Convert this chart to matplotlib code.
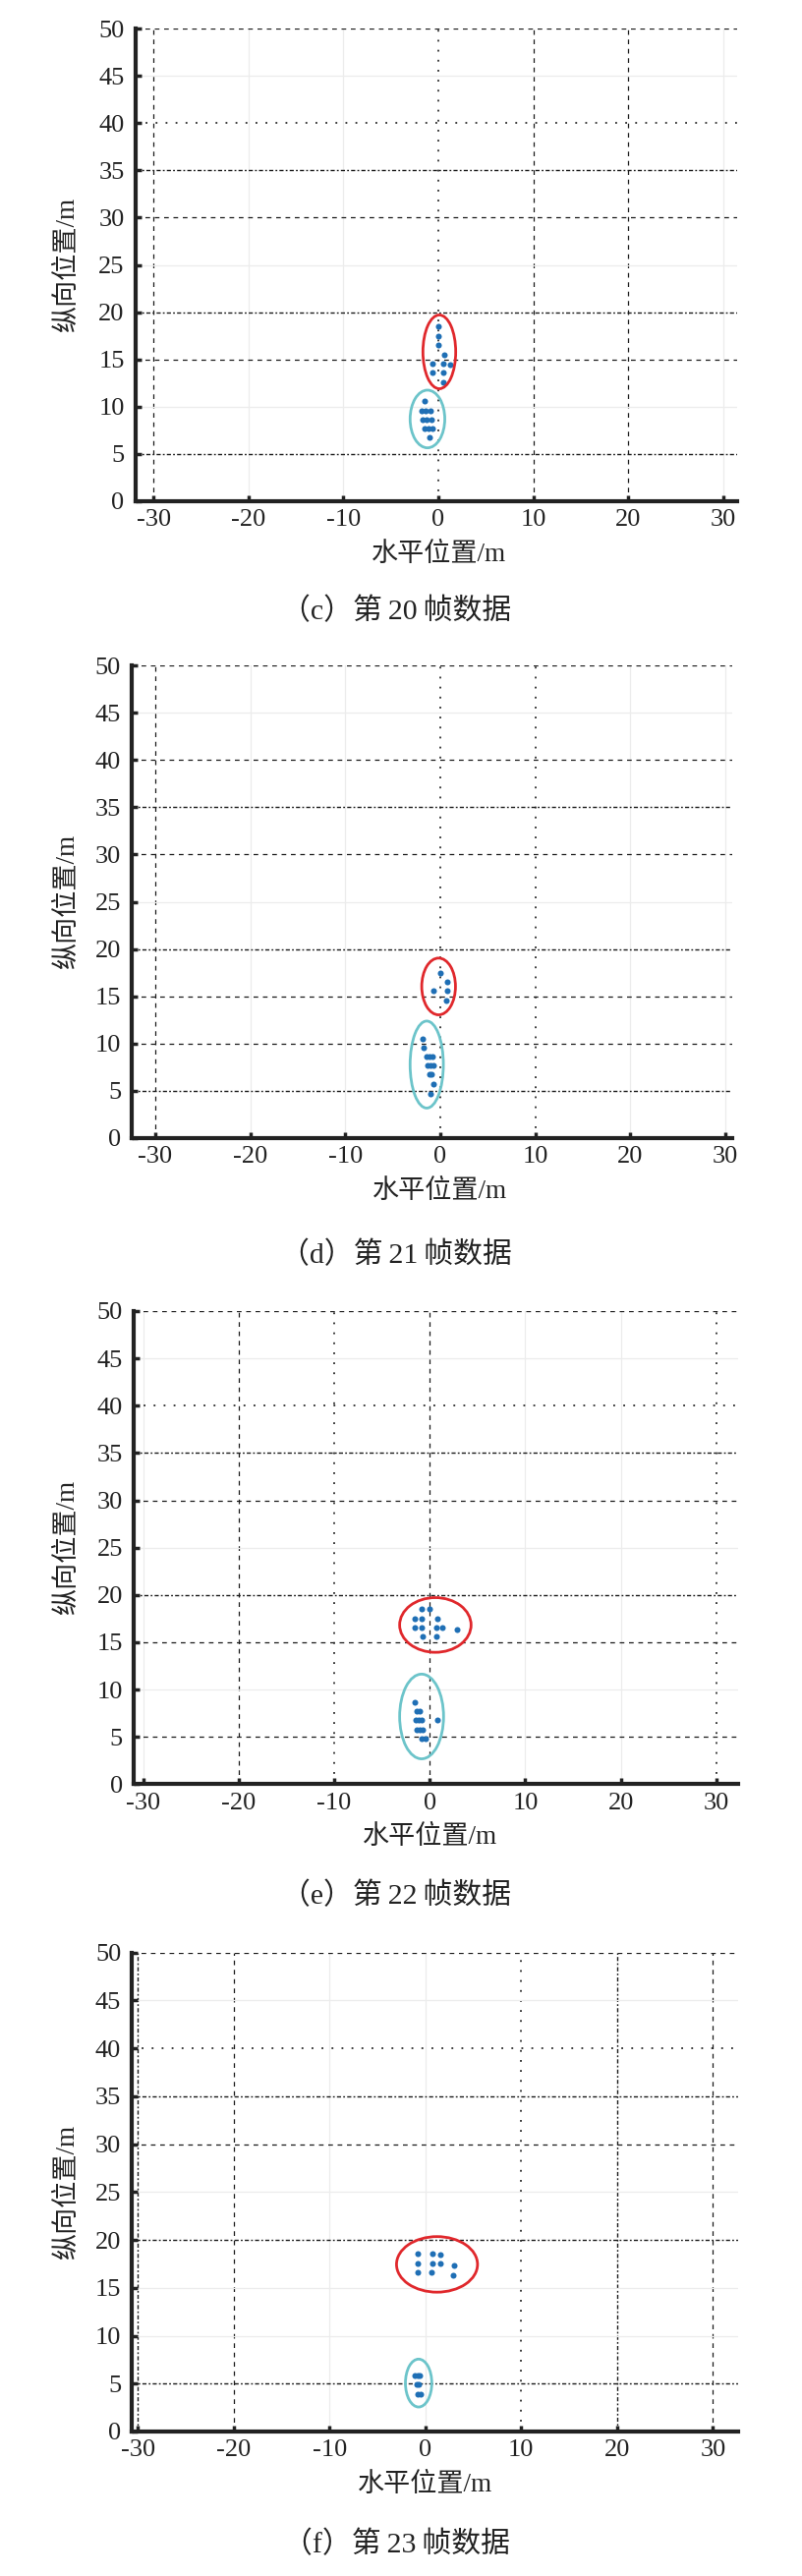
import matplotlib
matplotlib.use("Agg")
import matplotlib.pyplot as plt
from matplotlib.patches import Ellipse

plt.rcParams['font.family'] = ['Liberation Serif', 'Noto Sans CJK SC', 'DejaVu Sans']
plt.rcParams['axes.unicode_minus'] = False

# ---------------- data ----------------
captions = ["（c）第\u200920\u2009帧数据", "（d）第\u200921\u2009帧数据",
            "（e）第\u200922\u2009帧数据", "（f）第\u200923\u2009帧数据"]
xlabel = "水平位置/m"
ylabel = "纵向位置/m"
xticks = [-30, -20, -10, 0, 10, 20, 30]
yticks = [0, 5, 10, 15, 20, 25, 30, 35, 40, 45, 50]

# frame 20
c_red_x = [0.0, 0.0, 0.0, 0.65, -0.65, 0.55, 1.2, -0.64, 0.55, 0.52]
c_red_y = [18.5, 17.5, 16.5, 15.5, 14.55, 14.55, 14.5, 13.6, 13.6, 12.6]
c_cyan_x = [-1.48, -1.76, -1.31, -0.86, -1.65, -1.2, -0.76, -1.48, -1.03, -0.62, -0.97]
c_cyan_y = [10.6, 9.6, 9.6, 9.6, 8.66, 8.66, 8.66, 7.69, 7.69, 7.69, 6.72]
c_red_ell = (0.1, 15.8, 3.45, 7.8)
c_cyan_ell = (-1.15, 8.7, 3.65, 6.1)

# frame 21
d_red_x = [0.0, 0.76, -0.71, 0.71, 0.62]
d_red_y = [17.5, 16.5, 15.56, 15.56, 14.57]
d_cyan_x = [-1.85, -1.70, -1.47, -1.18, -0.85, -1.33, -1.04, -0.71, -1.18, -0.9, -0.76, -1.04]
d_cyan_y = [10.49, 9.54, 8.64, 8.64, 8.64, 7.70, 7.70, 7.70, 6.71, 6.71, 5.76, 4.69]
d_red_ell = (-0.17, 16.04, 3.55, 6.0)
d_cyan_ell = (-1.42, 7.78, 3.5, 9.2)

# frame 22
e_red_x = [-0.85, 0.0, -1.55, -0.85, 0.75, -1.55, -0.80, 0.71, 1.36, 2.87, -0.75, 0.66]
e_red_y = [18.53, 18.53, 17.54, 17.54, 17.54, 16.55, 16.55, 16.55, 16.55, 16.34, 15.61, 15.61]
e_cyan_x = [-1.55, -1.36, -1.08, -1.50, -1.18, -0.85, 0.85, -1.32, -1.03, -0.71, -0.89, -0.47]
e_cyan_y = [8.64, 7.70, 7.70, 6.75, 6.75, 6.75, 6.75, 5.80, 5.80, 5.80, 4.82, 4.82]
e_red_ell = (0.59, 16.83, 7.48, 5.78)
e_cyan_ell = (-0.85, 7.16, 4.6, 8.95)

# frame 23
f_red_x = [-0.84, 0.75, 1.59, -0.84, 0.70, 1.55, 3.0, -0.75, 0.66, 2.86]
f_red_y = [18.56, 18.56, 18.51, 17.56, 17.56, 17.52, 17.3, 16.61, 16.61, 16.35]
f_cyan_x = [-1.13, -0.84, -0.61, -0.94, -0.66, -0.75, -0.47]
f_cyan_y = [5.84, 5.84, 5.84, 4.89, 4.89, 3.89, 3.89]
f_red_ell = (1.22, 17.45, 8.45, 5.8)
f_cyan_ell = (-0.7, 5.06, 2.75, 5.0)

panels = [
    (c_red_x, c_red_y, c_cyan_x, c_cyan_y, c_red_ell, c_cyan_ell),
    (d_red_x, d_red_y, d_cyan_x, d_cyan_y, d_red_ell, d_cyan_ell),
    (e_red_x, e_red_y, e_cyan_x, e_cyan_y, e_red_ell, e_cyan_ell),
    (f_red_x, f_red_y, f_cyan_x, f_cyan_y, f_red_ell, f_cyan_ell),
]

# ---------------- layout / style ----------------
W, H = 816, 2621
DPI = 100
# axes boxes in pixels: left, top, right, bottom
boxes = [
    (137.7, 29, 750, 510),
    (134.2, 677, 744.7, 1158),
    (136, 1334, 750.7, 1815.4),
    (134.3, 1986.7, 750.7, 2474),
]
xlims = [(-31.9, 31.45), (-32.45, 30.7), (-31.0, 32.26), (-30.6, 32.6)]
caption_y = [622, 1277, 1929, 2589]
caption_x = 403

grid_styles = {
    'dot': dict(color='#1a1a1a', lw=1.2, ls=(0, (1.1, 5.0))),
    'dash': dict(color='#1a1a1a', lw=0.9, ls=(0, (3.8, 3.8))),
    'dashdot': dict(color='#1a1a1a', lw=1.0, ls=(0, (3.0, 1.6, 1.3, 1.6))),
    'light': dict(color='#ececec', lw=0.9, ls='-'),
}
vgrid = [
    {-30: 'dash', -20: 'light', -10: 'light', 0: 'dot', 10: 'dash', 20: 'dash', 30: 'light'},
    {-30: 'dash', -20: 'light', -10: 'light', 0: 'dot', 10: 'dot', 20: 'light', 30: 'light'},
    {-30: 'light', -20: 'dash', -10: 'dot', 0: 'dash', 10: 'light', 20: 'light', 30: 'dot'},
    {-30: 'dashdot', -20: 'dash', -10: 'light', 0: 'light', 10: 'dot', 20: 'dashdot', 30: 'dash'},
]
hgrid = [
    {0: 'light', 5: 'dashdot', 10: 'light', 15: 'dash', 20: 'dashdot', 25: 'light', 30: 'dash',
     35: 'dashdot', 40: 'dot', 45: 'light', 50: 'dash'},
    {0: 'light', 5: 'dashdot', 10: 'dash', 15: 'dash', 20: 'dashdot', 25: 'light', 30: 'dash',
     35: 'dashdot', 40: 'dash', 45: 'light', 50: 'dash'},
    {0: 'light', 5: 'dash', 10: 'light', 15: 'dash', 20: 'dashdot', 25: 'light', 30: 'dash',
     35: 'dashdot', 40: 'dot', 45: 'light', 50: 'dash'},
    {0: 'light', 5: 'dashdot', 10: 'light', 15: 'light', 20: 'dashdot', 25: 'light', 30: 'dash',
     35: 'dashdot', 40: 'dot', 45: 'light', 50: 'dash'},
]

DOT_COLOR = '#1f6fb5'
RED = '#e0282c'
CYAN = '#6cc4ca'
AXC = '#222222'
PX2PT = 72.0 / DPI

fig = plt.figure(figsize=(W / DPI, H / DPI), dpi=DPI)

for i, (rx, ry, cx, cy, rell, cell) in enumerate(panels):
    l, t, r, b = boxes[i]
    ax = fig.add_axes([l / W, 1 - b / H, (r - l) / W, (b - t) / H])
    ax.set_xlim(*xlims[i])
    ax.set_ylim(0, 50)
    ax.set_xticks(xticks)
    ax.set_yticks(yticks)
    for s in ['top', 'right']:
        ax.spines[s].set_visible(False)
    for s in ['left', 'bottom']:
        ax.spines[s].set_linewidth(3.0)
        ax.spines[s].set_color(AXC)
        ax.spines[s].set_capstyle('projecting')
    ax.tick_params(direction='in', length=4, width=2.5, color=AXC, labelcolor=AXC,
                   labelsize=19)
    ax.tick_params(axis='x', pad=6)
    ax.tick_params(axis='y', pad=8)
    ax.set_axisbelow(True)
    ax.grid(True)
    for val, gl in zip(xticks, ax.get_xgridlines()):
        st = grid_styles[vgrid[i][val]]
        gl.set_color(st['color']); gl.set_linewidth(st['lw']); gl.set_linestyle(st['ls'])
    for val, gl in zip(yticks, ax.get_ygridlines()):
        st = grid_styles[hgrid[i][val]]
        gl.set_color(st['color']); gl.set_linewidth(st['lw']); gl.set_linestyle(st['ls'])

    ax.scatter(rx, ry, s=19, color=DOT_COLOR, linewidths=0, zorder=3, clip_on=False)
    ax.scatter(cx, cy, s=19, color=DOT_COLOR, linewidths=0, zorder=3, clip_on=False)
    ax.add_patch(Ellipse((rell[0], rell[1]), rell[2], rell[3], fill=False,
                         edgecolor=RED, lw=2.0, zorder=4))
    ax.add_patch(Ellipse((cell[0], cell[1]), cell[2], cell[3], fill=False,
                         edgecolor=CYAN, lw=2.0, zorder=4))

    ax.annotate(xlabel, xy=(0, 0), xycoords=('data', 'axes fraction'),
                xytext=(0, -54 * PX2PT), textcoords='offset points',
                ha='center', va='center', fontsize=19.5, color=AXC)
    ax.annotate(ylabel, xy=(0, 0.5), xycoords='axes fraction',
                xytext=(-(l - 68) * PX2PT, 0), textcoords='offset points',
                ha='center', va='center', fontsize=19.5, rotation=90, color=AXC)

    fig.text(caption_x / W, 1 - caption_y[i] / H, captions[i], ha='center', va='center',
             fontsize=21.5, color=AXC)

fig.savefig('out.png', dpi=DPI)
